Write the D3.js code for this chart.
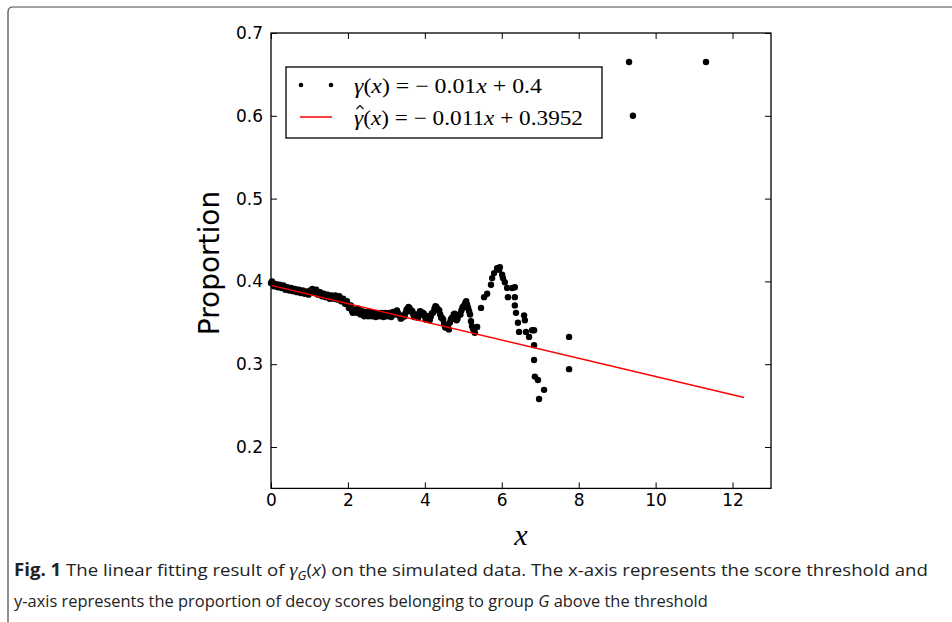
<!DOCTYPE html>
<html lang="en">
<head>
<meta charset="utf-8">
<title>Linear fitting result</title>
<script src="https://d3js.org/d3.v7.min.js"></script>
<style>
  body { margin: 0; background: #fff; }
  .tick text { font-family: "DejaVu Sans", sans-serif; font-size: 17px; fill: #000; }
  .tick line { stroke: #000; stroke-width: 1; }
  .caption { font-family: "Open Sans", sans-serif; font-size: 17px; fill: #222; }
  .math { font-family: "Liberation Serif", serif; }
</style>
</head>
<body>
<svg width="952" height="622"></svg>
<script>
const obsX = [0.00,0.05,0.10,0.15,0.20,0.25,0.30,0.35,0.40,0.45,0.50,0.55,0.60,0.65,0.70,0.75,0.80,0.85,0.90,0.95,
  1.00,1.05,1.10,1.15,1.20,1.25,1.30,1.35,1.40,1.45,1.50,1.55,1.60,1.65,1.70,1.75,1.80,1.85,1.90,1.95,
  2.00,2.05,2.10,2.15,2.20,2.25,2.30,2.35,2.40,2.45,2.50,2.55,2.60,2.65,2.70,2.75,2.80,2.85,2.90,2.95,
  3.00,3.05,3.10,3.15,3.20,3.25,3.30,3.35,3.40,3.45,3.50,3.55,3.60,3.65,3.70,3.75,3.80,3.85,3.90,3.95,
  4.00,4.05,4.10,4.15,4.20,4.25,4.30,4.35,4.40,4.45,4.50,4.55,4.60,4.65,4.70,4.75,4.80,4.85,4.90,4.95,
  5.00,5.05,5.10,5.15,5.20,5.25,5.30,5.36,
  5.46,5.54,5.62,5.72,5.75,5.80,5.88,5.93,5.95,6.01,6.03,6.08,6.14,6.27,6.34,6.16,6.34,6.34,6.37,6.42,
  6.58,6.60,6.45,6.63,6.71,6.79,6.84,6.84,6.84,6.86,6.94,7.10,6.97,7.75,7.75,9.31,9.41,11.31];
const obsY = [0.398,0.397,0.396,0.395,0.395,0.394,0.393,0.393,0.392,0.391,0.391,0.390,0.390,0.389,0.389,0.388,0.388,0.387,0.387,0.386,
  0.387,0.388,0.389,0.388,0.386,0.385,0.384,0.383,0.383,0.382,0.382,0.381,0.381,0.382,0.381,0.380,0.379,0.378,0.376,0.374,
  0.372,0.369,0.365,0.363,0.365,0.366,0.364,0.362,0.361,0.362,0.360,0.361,0.360,0.361,0.360,0.359,0.361,0.360,0.359,0.360,
  0.361,0.360,0.359,0.360,0.361,0.363,0.362,0.358,0.356,0.358,0.362,0.366,0.368,0.365,0.360,0.357,0.357,0.360,0.363,0.362,
  0.358,0.355,0.355,0.357,0.362,0.367,0.369,0.366,0.360,0.356,0.349,0.344,0.345,0.350,0.356,0.360,0.357,0.355,0.360,0.365,
  0.370,0.374,0.372,0.364,0.352,0.343,0.338,0.345,
  0.368,0.381,0.385,0.396,0.404,0.410,0.416,0.414,0.417,0.408,0.404,0.399,0.392,0.392,0.393,0.381,0.381,0.371,0.362,0.350,
  0.359,0.353,0.339,0.339,0.333,0.341,0.341,0.323,0.305,0.285,0.281,0.269,0.258,0.333,0.294,0.665,0.600,0.665];

// in-between thresholds of the dense band (scatter around the first set)
const bandX = [0.025,0.075,0.125,0.175,0.225,0.275,0.325,0.375,0.425,0.475,0.525,0.575,0.625,0.675,0.725,0.775,0.825,0.875,0.925,0.975,
  1.025,1.075,1.125,1.175,1.225,1.275,1.325,1.375,1.425,1.475,1.525,1.575,1.625,1.675,1.725,1.775,1.825,1.875,1.925,1.975,
  2.025,2.075,2.125,2.175,2.225,2.275,2.325,2.375,2.425,2.475,2.525,2.575,2.625,2.675,2.725,2.775,2.825,2.875,2.925,2.975,
  3.025,3.075,3.125,3.175,3.225,3.275,3.325,3.375,3.425,3.475,3.525,3.575,3.625,3.675,3.725,3.775,3.825,3.875,3.925,3.975,
  4.025,4.075,4.125,4.175,4.225,4.275,4.325,4.375,4.425,4.475,4.525,4.575,4.625,4.675,4.725,4.775,4.825,4.875,4.925,4.975,
  5.025,5.075,5.125,5.175,5.225,5.275];
const bandY = [0.400,0.394,0.397,0.393,0.396,0.392,0.395,0.390,0.393,0.389,0.392,0.388,0.391,0.387,0.390,0.386,0.389,0.385,0.388,0.384,
  0.389,0.391,0.386,0.390,0.384,0.387,0.382,0.385,0.381,0.384,0.379,0.383,0.379,0.383,0.378,0.382,0.376,0.379,0.373,0.376,
  0.368,0.371,0.362,0.366,0.362,0.367,0.360,0.364,0.358,0.363,0.358,0.363,0.358,0.362,0.357,0.362,0.358,0.362,0.357,0.362,
  0.358,0.362,0.357,0.363,0.360,0.365,0.359,0.355,0.359,0.358,0.366,0.369,0.364,0.364,0.357,0.360,0.356,0.364,0.360,0.361,
  0.354,0.358,0.353,0.361,0.363,0.370,0.366,0.365,0.356,0.354,0.345,0.347,0.342,0.354,0.355,0.361,0.353,0.359,0.360,0.368,
  0.369,0.376,0.368,0.360,0.346,0.341];

// fitted line gamma_hat(x) = -0.011x + 0.3952
const fitX = [0, 12.3];
const fitY = [0.3952, 0.2599];

const xTicks = [0, 2, 4, 6, 8, 10, 12];
const yTicks = [0.2, 0.3, 0.4, 0.5, 0.6, 0.7];

const svg = d3.select("svg");
const plotLeft = 271, plotRight = 771, plotTop = 33, plotBottom = 488.4;

const x = d3.scaleLinear().domain([0, 13]).range([plotLeft, plotRight]);
const y = d3.scaleLinear().domain([0.15, 0.7]).range([plotBottom, plotTop]);

// outer figure border
svg.append("path")
   .attr("d", "M8,622 L8,12 Q8,7 13,7 L952,7")
   .attr("fill", "none")
   .attr("stroke", "#444")
   .attr("stroke-width", 1.2);

// axes with inward ticks
svg.append("g")
   .attr("transform", `translate(0,${plotBottom})`)
   .call(d3.axisBottom(x).tickValues(xTicks).tickSizeInner(-6).tickSizeOuter(0).tickPadding(6).tickFormat(d3.format("d")))
   .call(g => g.select(".domain").remove());
svg.append("g")
   .attr("transform", `translate(0,${plotTop})`)
   .call(d3.axisTop(x).tickValues(xTicks).tickSizeInner(-6).tickSizeOuter(0).tickFormat(""))
   .call(g => g.select(".domain").remove());
svg.append("g")
   .attr("transform", `translate(${plotLeft},0)`)
   .call(d3.axisLeft(y).tickValues(yTicks).tickSizeInner(-6).tickSizeOuter(0).tickPadding(8).tickFormat(d3.format(".1f")))
   .call(g => g.select(".domain").remove());
svg.append("g")
   .attr("transform", `translate(${plotRight},0)`)
   .call(d3.axisRight(y).tickValues(yTicks).tickSizeInner(-6).tickSizeOuter(0).tickFormat(""))
   .call(g => g.select(".domain").remove());

// data points
const pts = obsX.map((d, i) => [d, obsY[i]]).concat(bandX.map((d, i) => [d, bandY[i]]));
svg.append("g")
   .selectAll("circle")
   .data(pts)
   .join("circle")
   .attr("cx", d => x(d[0]))
   .attr("cy", d => y(d[1]))
   .attr("r", 3.2)
   .attr("fill", "#000");

// fitted line
svg.append("path")
   .datum(fitX.map((d, i) => [d, fitY[i]]))
   .attr("d", d3.line().x(d => x(d[0])).y(d => y(d[1])))
   .attr("fill", "none")
   .attr("stroke", "#f00")
   .attr("stroke-width", 1.5);

// frame
svg.append("rect")
   .attr("x", plotLeft).attr("y", plotTop)
   .attr("width", plotRight - plotLeft).attr("height", plotBottom - plotTop)
   .attr("fill", "none")
   .attr("stroke", "#000")
   .attr("stroke-width", 1.3);

// axis labels
svg.append("text")
   .attr("transform", "translate(219,263) rotate(-90)")
   .attr("text-anchor", "middle")
   .style("font-family", "DejaVu Sans, sans-serif")
   .style("font-size", "28px")
   .text("Proportion");
svg.append("text")
   .attr("x", 521).attr("y", 545)
   .attr("text-anchor", "middle")
   .attr("class", "math")
   .style("font-size", "30px")
   .style("font-style", "italic")
   .text("x");

// legend
const legend = svg.append("g");
legend.append("rect")
   .attr("x", 286).attr("y", 67).attr("width", 316).attr("height", 71)
   .attr("fill", "#fff").attr("stroke", "#000").attr("stroke-width", 1.3);
legend.selectAll("circle")
   .data([301, 331])
   .join("circle")
   .attr("cx", d => d).attr("cy", 85).attr("r", 2.3).attr("fill", "#000");
legend.append("line")
   .attr("x1", 300).attr("x2", 332).attr("y1", 117).attr("y2", 117)
   .attr("stroke", "#f00").attr("stroke-width", 1.5);

function mathText(g, xPos, yPos, parts, len) {
  const t = g.append("text")
     .attr("x", xPos).attr("y", yPos)
     .attr("class", "math")
     .style("font-size", "21px")
     .attr("textLength", len)
     .attr("lengthAdjust", "spacingAndGlyphs");
  parts.forEach(p => t.append("tspan").style("font-style", p[1] ? "italic" : "normal").text(p[0]));
}
mathText(legend, 354, 93, [["γ", 1], ["(", 0], ["x", 1], [") = − 0.01", 0], ["x", 1], [" + 0.4", 0]], 188);
mathText(legend, 354, 125, [["γ", 1], ["(", 0], ["x", 1], [") = − 0.011", 0], ["x", 1], [" + 0.3952", 0]], 229);
// hat over gamma
legend.append("path")
   .attr("d", "M356.5,109 L360,105.5 L363.5,109")
   .attr("fill", "none")
   .attr("stroke", "#000")
   .attr("stroke-width", 1.1);

// caption, each line squeezed to the reference width
function fitLine(t, width) {
  const w = t.node().getComputedTextLength();
  t.attr("transform", `translate(14,0) scale(${width / w},1)`);
}
const cap1 = svg.append("text")
   .attr("class", "caption")
   .attr("x", 0).attr("y", 576);
cap1.append("tspan").style("font-weight", "bold").text("Fig. 1");
cap1.append("tspan").text("  The linear fitting result of ");
cap1.append("tspan").style("font-style", "italic").style("font-family", "Liberation Serif, serif").style("font-size", "19px").text("γ");
cap1.append("tspan").style("font-style", "italic").style("font-size", "12px").attr("dy", 4).text("G");
cap1.append("tspan").attr("dy", -4).text("(");
cap1.append("tspan").style("font-style", "italic").text("x");
cap1.append("tspan").text(") on the simulated data. The x-axis represents the score threshold and");
fitLine(cap1, 914);

const cap2 = svg.append("text")
   .attr("class", "caption")
   .attr("x", 0).attr("y", 607);
cap2.append("tspan").text("y-axis represents the proportion of decoy scores belonging to group ");
cap2.append("tspan").style("font-style", "italic").text("G");
cap2.append("tspan").text(" above the threshold");
fitLine(cap2, 694);
</script>
</body>
</html>
